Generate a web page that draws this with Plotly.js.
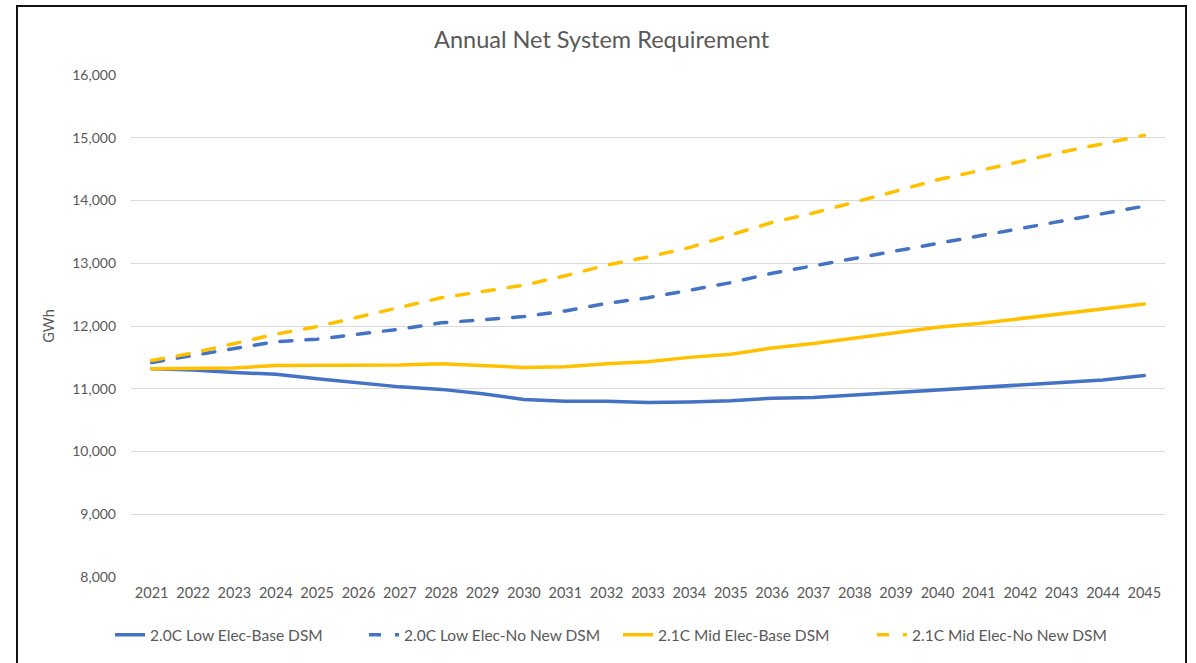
<!DOCTYPE html>
<html>
<head>
<meta charset="utf-8">
<script src="https://cdn.plot.ly/plotly-3.0.1.min.js"></script>
<style>
  html, body { margin: 0; padding: 0; background: #fff; }
  #chart { width: 1196px; height: 663px; }
  #frame { position: absolute; left: 16px; top: 5px; width: 1167px; height: 670px;
           border: 2px solid #111; pointer-events: none; }
  #chart .scatterlayer .js-line { stroke-linecap: round; }
</style>
</head>
<body>
<div id="chart"></div>
<div id="frame"></div>
<script>
const years = ["2021","2022","2023","2024","2025","2026","2027","2028","2029","2030","2031","2032","2033",
               "2034","2035","2036","2037","2038","2039","2040","2041","2042","2043","2044","2045"];
const lowBase   = [11320,11300,11260,11230,11160,11090,11030,10990,10920,10830,10800,10800,10780,
                   10790,10810,10850,10860,10900,10940,10980,11010,11050,11100,11140,11210];
const lowNoNew  = [11420,11530,11650,11750,11790,11870,11950,12050,12100,12150,12240,12360,12450,
                   12570,12690,12840,12960,13080,13200,13320,13430,13560,13680,13790,13910];
const midBase   = [11320,11320,11330,11370,11370,11370,11380,11400,11370,11340,11350,11400,11430,
                   11500,11550,11650,11720,11810,11890,11980,12040,12120,12200,12270,12350];
const midNoNew  = [11450,11570,11720,11870,11990,12140,12290,12450,12550,12650,12800,12970,13100,
                   13250,13450,13650,13800,13970,14150,14330,14470,14620,14770,14900,15040];
const seriesNames = ["2.0C Low Elec-Base DSM","2.0C Low Elec-No New DSM","2.1C Mid Elec-Base DSM","2.1C Mid Elec-No New DSM"];
const yTicks = [8000,9000,10000,11000,12000,13000,14000,15000,16000];

const BLUE = "#4472C4", GOLD = "#FFC000";
const DASH = "12px,14px";

const traces = [
  {x: years, y: lowBase,  name: seriesNames[0], line: {color: BLUE, width: 3.5}},
  {x: years, y: lowNoNew, name: seriesNames[1], line: {color: BLUE, width: 3.5, dash: DASH}},
  {x: years, y: midBase,  name: seriesNames[2], line: {color: GOLD, width: 3.5}},
  {x: years, y: midNoNew, name: seriesNames[3], line: {color: GOLD, width: 3.5, dash: DASH}}
].map(t => Object.assign({type: "scatter", mode: "lines", hoverinfo: "skip"}, t));

const FONT = "Lato, 'Open Sans', sans-serif";
const layout = {
  width: 1196, height: 663,
  margin: {l: 131, r: 31, t: 75, b: 85},
  paper_bgcolor: "#fff", plot_bgcolor: "#fff",
  font: {family: FONT, color: "#595959", size: 14},
  title: {text: "Annual Net System Requirement", font: {family: FONT, size: 23.5, color: "#595959"},
          x: 0.503, xanchor: "center", y: 0.94, yref: "container", yanchor: "middle"},
  xaxis: {type: "category", range: [-0.5, 24.5], showgrid: false, zeroline: false, showline: false,
          ticks: "", tickfont: {size: 14.5, color: "#595959"}, ticklabelstandoff: 5, fixedrange: true},
  yaxis: {range: [8000, 16000], tickvals: yTicks, tickformat: ",", showgrid: true, gridcolor: "#d9d9d9",
          gridwidth: 1, zeroline: false, showline: false, ticks: "", ticklabelstandoff: 14,
          tickfont: {size: 14, color: "#595959"},
          title: {text: "GWh", font: {size: 14.5, color: "#595959"}, standoff: 14}, fixedrange: true},
  showlegend: true,
  legend: {orientation: "h", x: 0.471, xanchor: "center", y: -0.08, yanchor: "top",
           font: {size: 15.5, color: "#595959"}, entrywidth: 209, entrywidthmode: "pixels",
           traceorder: "normal", bgcolor: "rgba(0,0,0,0)"}
};

Plotly.newPlot("chart", traces, layout, {displayModeBar: false, staticPlot: true});
</script>
</body>
</html>
